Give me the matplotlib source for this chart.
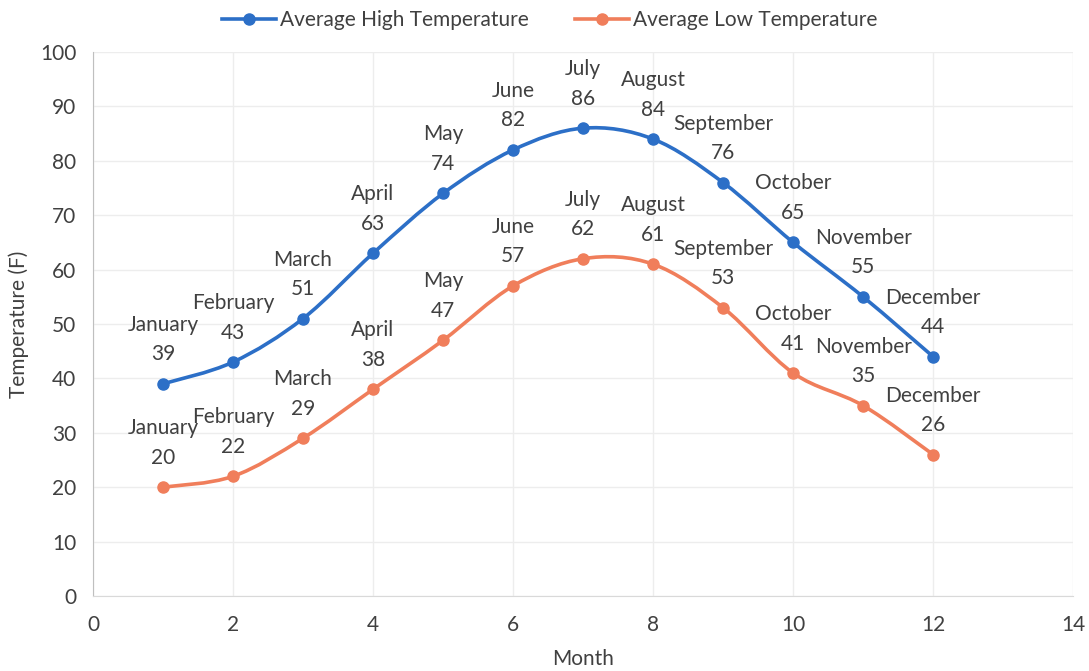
import matplotlib.pyplot as plt
from matplotlib.path import Path
from matplotlib.patches import PathPatch

plt.rcParams["font.family"] = ["Lato", "DejaVu Sans"]

months = [1, 2, 3, 4, 5, 6, 7, 8, 9, 10, 11, 12]
month_names = ["January", "February", "March", "April", "May", "June",
               "July", "August", "September", "October", "November", "December"]
high_temps = [39, 43, 51, 63, 74, 82, 86, 84, 76, 65, 55, 44]
low_temps = [20, 22, 29, 38, 47, 57, 62, 61, 53, 41, 35, 26]

HIGH_COLOR = "#2C6FC7"
LOW_COLOR = "#F07E5B"
TEXT_COLOR = "#404040"


def smooth_path(xs, ys):
    """Bezier path through the points, like a spreadsheet 'smoothed line'."""
    pts = list(zip(xs, ys))
    verts = [pts[0]]
    codes = [Path.MOVETO]
    n = len(pts)
    for i in range(n - 1):
        p0 = pts[i - 1] if i > 0 else pts[i]
        p1 = pts[i]
        p2 = pts[i + 1]
        p3 = pts[i + 2] if i + 2 < n else pts[i + 1]
        c1 = (p1[0] + (p2[0] - p0[0]) / 6, p1[1] + (p2[1] - p0[1]) / 6)
        c2 = (p2[0] - (p3[0] - p1[0]) / 6, p2[1] - (p3[1] - p1[1]) / 6)
        verts += [c1, c2, p2]
        codes += [Path.CURVE4] * 3
    return Path(verts, codes)


fig = plt.figure(figsize=(10.89, 6.71), dpi=100)
ax = fig.add_axes([0.0854, 0.1118, 0.9, 0.8107])

for temps, color, label in [(high_temps, HIGH_COLOR, "Average High Temperature"),
                            (low_temps, LOW_COLOR, "Average Low Temperature")]:
    ax.add_patch(PathPatch(smooth_path(months, temps), facecolor="none",
                           edgecolor=color, linewidth=2.6, zorder=3))
    ax.plot(months, temps, "o", color=color, markersize=8, zorder=4)
    # legend proxy
    ax.plot([], [], "-o", color=color, linewidth=2.6, markersize=8, label=label)
    for m, name, v in zip(months, month_names, temps):
        ax.annotate(f"{name}\n{v}", (m, v), xytext=(0, 14), textcoords="offset points",
                    ha="center", va="bottom", fontsize=15, color=TEXT_COLOR,
                    linespacing=1.6, zorder=5)

ax.set_xlim(0, 14)
ax.set_ylim(0, 100)
ax.set_xticks(range(0, 15, 2))
ax.set_yticks(range(0, 101, 10))
ax.tick_params(length=0, labelsize=15, labelcolor=TEXT_COLOR)
ax.tick_params(axis="x", pad=14)
ax.tick_params(axis="y", pad=12)
ax.grid(True, color="#EDEDED", linewidth=1)
ax.set_axisbelow(True)
for side in ["top", "right"]:
    ax.spines[side].set_visible(False)
ax.spines["left"].set_color("#BFBFBF")
ax.spines["bottom"].set_color("#D9D9D9")

ax.set_xlabel("Month", fontsize=15, color=TEXT_COLOR, labelpad=10)
ax.set_ylabel("Temperature (F)", fontsize=15, color=TEXT_COLOR, labelpad=8)

handles, labels = ax.get_legend_handles_labels()
fig.legend(handles, labels, loc="upper center", bbox_to_anchor=(0.505, 1.013), ncol=2,
           frameon=False, fontsize=15, handlelength=2.6, columnspacing=2.2,
           handletextpad=0.2, labelcolor=TEXT_COLOR)

fig.savefig("out.png", dpi=100)
